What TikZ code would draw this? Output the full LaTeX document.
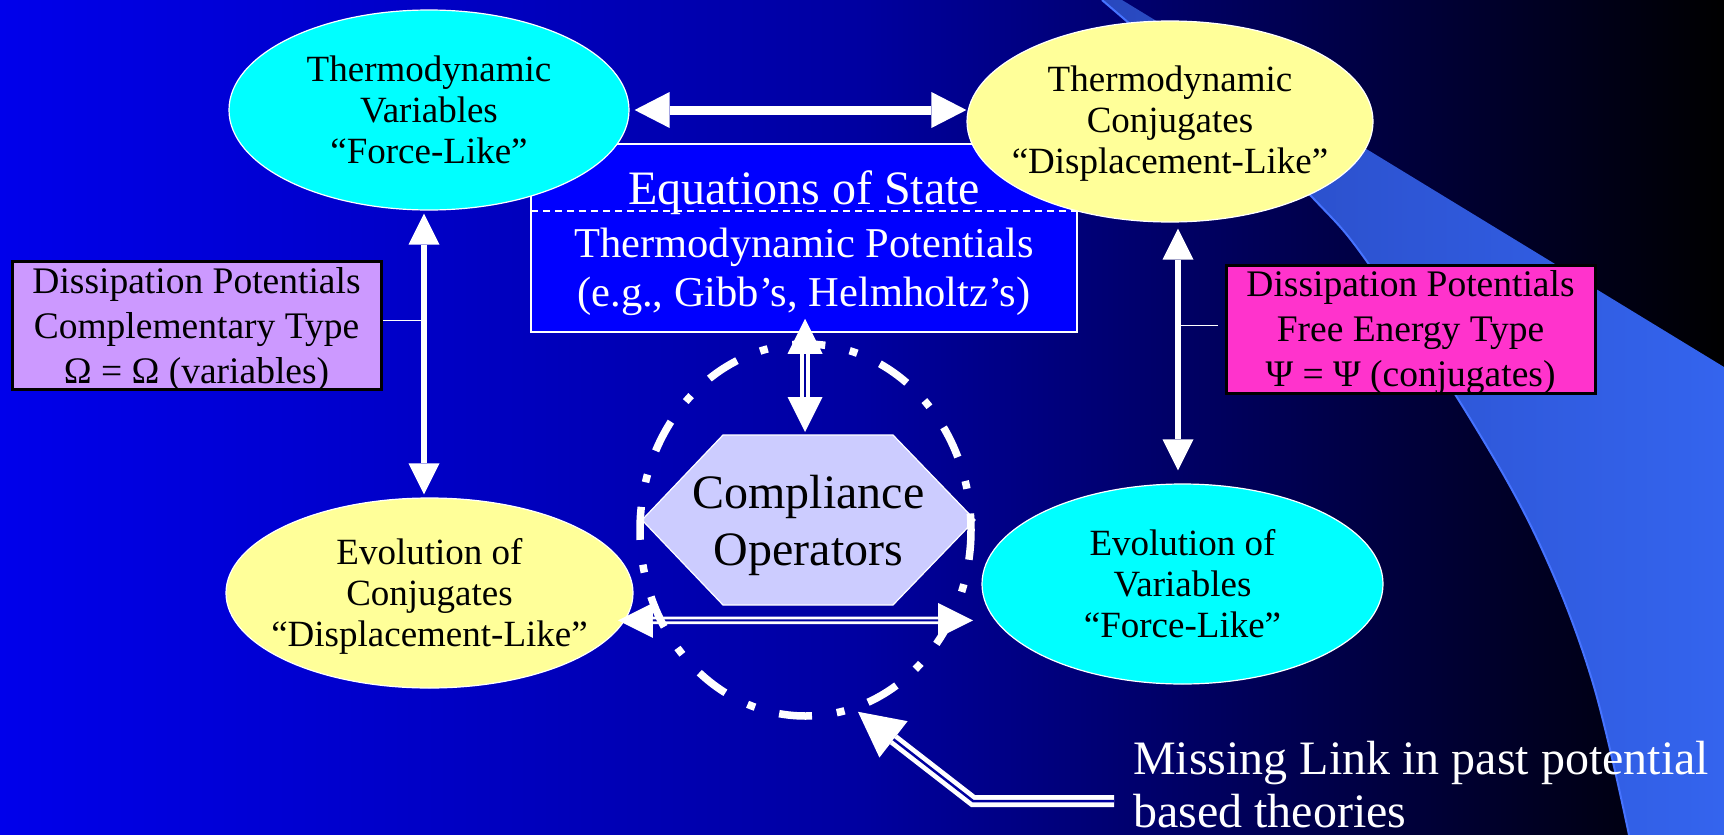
\documentclass[tikz,border=0pt]{standalone}
\usepackage{fontspec}
\setmainfont{Liberation Serif}
\usetikzlibrary{arrows.meta,shapes.geometric}

\definecolor{bgleft}{RGB}{0,0,235}
\definecolor{bgmid}{RGB}{0,0,160}
\definecolor{bandA}{RGB}{40,72,190}
\definecolor{bandB}{RGB}{52,100,238}
\definecolor{bandedge}{RGB}{70,115,255}
\definecolor{varcyan}{RGB}{0,255,255}
\definecolor{conjyellow}{RGB}{255,255,153}
\definecolor{eqblue}{RGB}{0,0,255}
\definecolor{complav}{RGB}{204,153,255}
\definecolor{freepink}{RGB}{255,51,204}
\definecolor{hexlav}{RGB}{204,204,255}
\definecolor{gapblue}{RGB}{0,0,160}

\tikzset{
  ell/.style={ellipse, draw=white, line width=1.2pt, inner sep=0pt},
  elltext/.style={align=center, text=black, inner sep=0pt, font=\fontsize{37}{41}\selectfont},
  dissbox/.style={rectangle, draw=black, line width=3pt, inner sep=0pt,
    minimum width=369pt, minimum height=128pt},
  disstext/.style={align=center, text=black, inner sep=0pt, font=\fontsize{37.5}{45}\selectfont},
  eqtext/.style={anchor=base, text=white, inner sep=0pt, font=\fontsize{42.5}{50}\selectfont},
  mltext/.style={anchor=base west, text=white, inner sep=0pt, font=\fontsize{48}{55}\selectfont},
  fatarrow/.style={draw=white, line width=9pt,
    {Triangle[length=35pt,width=36pt,line width=0pt]}-{Triangle[length=35pt,width=36pt,line width=0pt]}},
  slimarrow/.style={draw=white, line width=6.5pt,
    {Triangle[length=31pt,width=31pt,line width=0pt]}-{Triangle[length=31pt,width=31pt,line width=0pt]}},
  dblshaft/.style={draw=white,
    {Triangle[length=35pt,width=35pt,line width=0pt]}-{Triangle[length=35pt,width=35pt,line width=0pt]}},
  gapline/.style={draw=gapblue, line width=2.5pt},
  tieline/.style={draw=white, line width=1.5pt},
}

\begin{document}
\begin{tikzpicture}[x=1pt,y=-1pt]
\useasboundingbox (0,0) rectangle (1724,835);

% background gradient
\shade[left color=bgleft, right color=black, middle color=bgmid] (0,0) rectangle (1724,835);

% light sweeping band on the right
\shade[left color=bandA, right color=bandB]
  plot[smooth, tension=0.6] coordinates {(1102,0) (1210,95) (1312,197) (1368,263) (1471,420) (1540,545) (1592,680) (1629,835)}
  -- (1724,835) -- (1724,367) -- (1122,0) -- cycle;
\draw[bandedge, line width=2pt]
  plot[smooth, tension=0.6] coordinates {(1102,0) (1210,95) (1312,197) (1368,263) (1471,420) (1540,545) (1592,680) (1629,835)};

% equations of state box
\node[rectangle, fill=eqblue, draw=white, line width=1.5pt, inner sep=0pt,
      minimum width=546pt, minimum height=188pt] (eq) at (804,238) {};
\draw[white, line width=1.5pt, dash pattern=on 7pt off 5pt] (531,211) -- (1077,211);
\node[eqtext, font=\fontsize{48}{55}\selectfont] (eqt) at (804,204) {Equations of State};
\node[eqtext] (eqp) at (804,257) {Thermodynamic Potentials};
\node[eqtext] (eqe) at (804,306) {(e.g., Gibb’s, Helmholtz’s)};

% the four ellipses
\node[ell, fill=varcyan, minimum width=400pt, minimum height=200pt] (tv) at (429,110) {};
\node[elltext] at (tv.center) {Thermodynamic\\Variables\\“Force-Like”};
\node[ell, fill=conjyellow, minimum width=406pt, minimum height=201pt] (tc) at (1170,121.5) {};
\node[elltext, yshift=-2.5pt] at (tc.center) {Thermodynamic\\Conjugates\\“Displacement-Like”};
\node[ell, fill=conjyellow, minimum width=407pt, minimum height=190pt] (ec) at (429.5,593) {};
\node[elltext, yshift=-3.5pt] at (ec.center) {Evolution of\\Conjugates\\“Displacement-Like”};
\node[ell, fill=varcyan, minimum width=401pt, minimum height=200pt] (ev) at (1182.5,584) {};
\node[elltext] at (ev.center) {Evolution of\\Variables\\“Force-Like”};

% dissipation potential boxes
\node[dissbox, fill=complav] (dc) at (196.5,325) {};
\node[disstext, yshift=-4.5pt] at (dc.center) {Dissipation Potentials\\Complementary Type\\Ω = Ω (variables)};
\node[dissbox, fill=freepink] (fe) at (1410.5,329) {};
\node[disstext, yshift=-3.5pt] at (fe.center) {Dissipation Potentials\\Free Energy Type\\Ψ = Ψ (conjugates)};

% top link between variables and conjugates
\draw[fatarrow, shorten <=5pt] (tv.east) -- (tv.east -| tc.west);

% left vertical link
\coordinate (lA) at ([xshift=-5pt]tv.south);
\coordinate (lB) at (lA |- ec.north);
\draw[slimarrow, shorten <=3pt, shorten >=3pt] (lA) -- (lB);
\path (lA) ++(0,110) coordinate (lJ);
\draw[tieline] (lJ) -- (lJ -| dc.east);

% right vertical link
\coordinate (rA) at ([xshift=8pt]tc.south);
\coordinate (rB) at (rA |- ev.north);
\draw[slimarrow, shorten <=6pt, shorten >=13pt] (rA) -- (rB);
\path (rA) ++(0,103) coordinate (rJ);
\draw[tieline, shorten >=7pt] (rJ) -- (rJ -| fe.west);

% compliance operators hexagon
\node[inner sep=0pt, outer sep=0pt, minimum width=333pt, minimum height=170pt] (hex) at (808.5,520) {};
\filldraw[fill=hexlav, draw=white, line width=1.2pt]
  (hex.west) -- ([xshift=81pt]hex.north west) -- ([xshift=-82pt]hex.north east)
  -- (hex.east) -- ([xshift=-82pt]hex.south east) -- ([xshift=81pt]hex.south west) -- cycle;
\node[align=center, text=black, inner sep=0pt, font=\fontsize{48}{57}\selectfont]
  at ([yshift=-5pt]hex.center) {Compliance\\Operators};

% double link between hexagon and potentials box
\coordinate (hA) at ([xshift=-3.5pt]hex.north);
\coordinate (hB) at (hA |- eq.south);
\draw[dblshaft, line width=10pt, shorten <=3pt, shorten >=-14pt] (hA) -- (hB);
\draw[gapline, shorten <=38pt, shorten >=21pt] (hA) -- (hB);

% double link between the two evolution ellipses
\draw[dblshaft, line width=7.5pt, shorten <=-7pt, shorten >=22pt] (ec.-8.5) -- (ev.191.6);
\draw[gapline, line width=2pt, shorten <=28pt, shorten >=57pt] (ec.-8.5) -- (ev.191.6);

% dash-dot ring round the compliance operators
\node[ellipse, draw=white, line width=7.5pt, dash pattern=on 33pt off 25pt on 8pt off 25pt,
      dash phase=16.5pt, minimum width=331pt, minimum height=372pt,
      inner sep=0pt, outer sep=0pt] (ring) at (805.5,530) {};

% missing link annotation
\node[mltext] (mlA) at (1133,774) {Missing Link in past potential};
\node[mltext] (mlB) at (1133,827) {based theories};
\path (mlA.base west) ++(-19,27) coordinate (mlFrom);
\path (mlFrom) ++(-141,0) coordinate (mlBend);
\draw[white, line width=12pt, -{Triangle[length=45pt,width=46pt,line width=0pt]}, shorten >=6pt]
  (mlFrom) -- (mlBend) -- (ring.-75.6);
\draw[gapline, shorten >=51pt] (mlFrom) -- (mlBend) -- (ring.-75.6);

\end{tikzpicture}
\end{document}
